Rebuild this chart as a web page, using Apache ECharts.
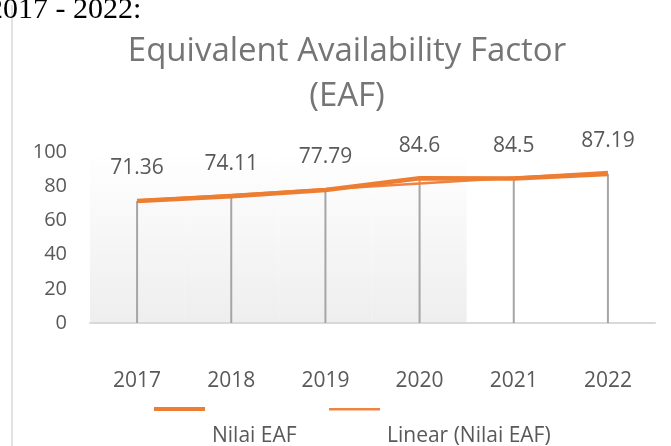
<!DOCTYPE html>
<html>
<head>
<meta charset="utf-8">
<script src="https://cdn.jsdelivr.net/npm/echarts@6/dist/echarts.min.js"></script>
<style>
  html, body { margin: 0; padding: 0; background: #fff; }
  #chart { width: 671px; height: 446px; }
</style>
</head>
<body>
<div id="chart"></div>
<script>
(function () {
    'use strict';

    // data
    var years = ['2017', '2018', '2019', '2020', '2021', '2022'];
    var eafValues = [71.36, 74.11, 77.79, 84.6, 84.5, 87.19];
    // Excel trendline, as it sits in the picture
    var trendValues = [71.6, 74.9, 78.2, 81.6, 84.9, 88.3];
    var seriesNames = ['Nilai EAF', 'Linear (Nilai EAF)'];

    var orange = '#ED7D31';
    var trendOrange = '#EE8443';
    var textGray = '#595959';
    var font = 'Open Sans';

    var shade = {
        type: 'linear', x: 0, y: 0, x2: 0, y2: 1,
        colorStops: [{ offset: 0, color: '#ffffff' }, { offset: 1, color: '#eeeeee' }]
    };

    var myChart = echarts.init(document.getElementById('chart'));

    var option = {
        animation: false,
        title: [
            {
                text: 'Equivalent Availability Factor\n(EAF)',
                left: 347,
                textAlign: 'center',
                top: 29,
                padding: 0,
                textStyle: {
                    fontFamily: font,
                    fontSize: 33,
                    lineHeight: 45,
                    fontWeight: 'normal',
                    color: '#757575'
                }
            },
            {
                text: '2017 - 2022:',
                left: -12,
                top: -5,
                padding: 0,
                textStyle: {
                    fontFamily: 'Liberation Serif',
                    fontSize: 30,
                    lineHeight: 30,
                    fontWeight: 'normal',
                    color: '#000'
                }
            }
        ],
        graphic: [{
            type: 'line',
            shape: { x1: 12, y1: 5, x2: 12, y2: 446 },
            style: { stroke: '#d9d9d9', lineWidth: 1.5 },
            z: -1
        }],
        // icons and texts are laid out apart, like in the picture
        legend: [
            {
                data: [{ name: seriesNames[0], icon: 'rect' }],
                left: 154, top: 407, padding: 0,
                itemWidth: 51, itemHeight: 4,
                formatter: function () { return ''; }
            },
            {
                data: [{ name: seriesNames[1], icon: 'rect' }],
                left: 329, top: 408, padding: 0,
                itemWidth: 51, itemHeight: 2.5,
                formatter: function () { return ''; }
            },
            {
                data: [seriesNames[0]], left: 207, top: 426, padding: 0,
                icon: 'none', itemWidth: 0, itemHeight: 14,
                textStyle: { fontFamily: font, fontSize: 21, color: textGray }
            },
            {
                data: [seriesNames[1]], left: 382, top: 426, padding: 0,
                icon: 'none', itemWidth: 0, itemHeight: 14,
                textStyle: { fontFamily: font, fontSize: 21, color: textGray }
            }
        ],
        grid: {
            left: 90,
            right: 16,
            top: 152,
            bottom: 123,
            containLabel: false
        },
        xAxis: {
            type: 'category',
            data: years,
            boundaryGap: true,
            axisLine: { lineStyle: { color: '#d9d9d9', width: 2 } },
            axisTick: { show: false },
            axisLabel: {
                margin: 48,
                fontFamily: font,
                fontSize: 21,
                color: textGray
            },
            splitArea: {
                show: true,
                interval: 0,
                areaStyle: { color: [shade, shade, shade, shade, 'rgba(0,0,0,0)', 'rgba(0,0,0,0)'] }
            }
        },
        yAxis: {
            type: 'value',
            min: 0,
            max: 100,
            interval: 20,
            axisLine: { show: false },
            axisTick: { show: false },
            splitLine: { show: false },
            axisLabel: {
                margin: 23,
                fontFamily: font,
                fontSize: 20,
                color: textGray
            }
        },
        series: [
            {
                // drop lines + data labels
                name: 'drop',
                type: 'bar',
                data: eafValues,
                barWidth: 2,
                itemStyle: { color: '#a5a5a5' },
                label: {
                    show: true,
                    position: 'top',
                    distance: 22,
                    fontFamily: font,
                    fontSize: 21,
                    color: textGray
                },
                z: 1
            },
            {
                name: seriesNames[1],
                type: 'line',
                data: trendValues,
                symbol: 'none',
                lineStyle: { color: trendOrange, width: 2.5 },
                itemStyle: { color: trendOrange },
                z: 3
            },
            {
                name: seriesNames[0],
                type: 'line',
                data: eafValues,
                symbol: 'none',
                lineStyle: { color: orange, width: 4.5 },
                itemStyle: { color: orange },
                z: 4
            }
        ]
    };

    myChart.setOption(option);
})();
</script>
</body>
</html>
